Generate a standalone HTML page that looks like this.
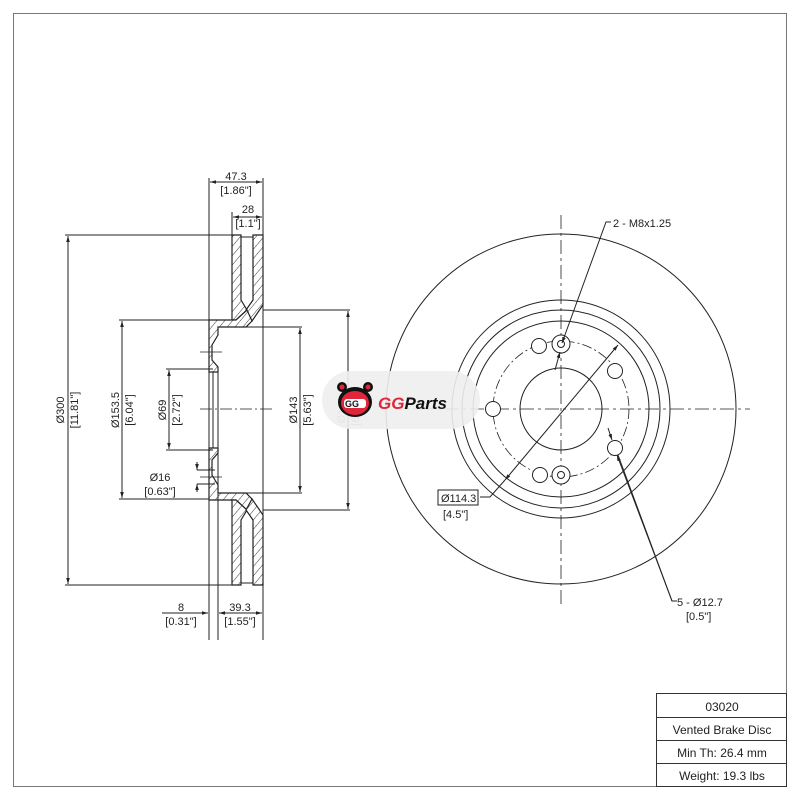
<!DOCTYPE html>
<html><head><meta charset="utf-8"><style>
html,body{margin:0;padding:0;background:#fff}
svg{display:block}
text{font-family:"Liberation Sans",sans-serif;fill:#222}
</style></head><body>
<svg width="800" height="800" viewBox="0 0 800 800" xmlns="http://www.w3.org/2000/svg">
<defs>
<pattern id="h" width="6" height="6" patternUnits="userSpaceOnUse" patternTransform="rotate(40)">
<rect width="6" height="6" fill="#fff"/><line x1="0" y1="0" x2="0" y2="6" stroke="#222" stroke-width="0.9"/></pattern>
<marker id="a" viewBox="0 0 10 10" refX="10" refY="5" markerWidth="6" markerHeight="6" orient="auto-start-reverse"><path d="M0,2 L10,5 L0,8z" fill="#222"/></marker>
</defs>
<rect x="13.5" y="13.5" width="773" height="773" fill="none" stroke="#777" stroke-width="1"/>

<g font-size="11" text-anchor="middle" fill="#bbb">
<g transform="translate(345,410) rotate(-90)"><text x="0" y="0" style="fill:#999">Ø161</text><text x="0" y="14" style="fill:#999">[6.34"]</text></g>
</g>

<!-- Section view -->
<g stroke="#222" stroke-width="1.2" fill="url(#h)">
<path d="M232,235 H241 V300 L247,310 L236,320 H232 Z"/>
<path d="M253,235 H263 V305 L252,321 L246,310 L253,300 Z"/>
<path d="M209,320 H236 L247,310 L252,321 L246,327 H218 V335 L212,345 V360 L218,367 V372 H209 Z"/>
<path d="M209,500 H236 L247,510 L252,499 L246,493 H218 V485 L212,475 V460 L218,453 V448 H209 Z"/>
<path d="M232,585 H241 V520 L247,510 L236,500 H232 Z"/>
<path d="M253,585 H263 V515 L252,499 L246,510 L253,520 Z"/>
</g>
<g stroke="#222" stroke-width="1" fill="none">
<line x1="241" y1="237" x2="253" y2="237"/><line x1="241" y1="583" x2="253" y2="583"/>
<line x1="209" y1="178" x2="209" y2="640"/>
<line x1="263" y1="178" x2="263" y2="640"/>
<line x1="218" y1="372" x2="218" y2="640"/>
<line x1="213" y1="372" x2="213" y2="448"/>
<line x1="232" y1="212" x2="232" y2="235"/>
<line x1="65" y1="235" x2="232" y2="235"/><line x1="65" y1="585" x2="232" y2="585"/>
<line x1="119" y1="320" x2="209" y2="320"/><line x1="119" y1="499" x2="209" y2="499"/>
<line x1="166" y1="369" x2="213" y2="369"/><line x1="166" y1="450" x2="213" y2="450"/>
<line x1="218" y1="327" x2="302" y2="327"/><line x1="218" y1="493" x2="302" y2="493"/>
<line x1="263" y1="310" x2="350" y2="310"/><line x1="263" y1="510" x2="350" y2="510"/>
<line x1="197" y1="470" x2="215" y2="470"/><line x1="197" y1="484" x2="215" y2="484"/>
<line x1="200" y1="352" x2="222" y2="352" stroke-width="0.7"/><line x1="200" y1="477" x2="222" y2="477" stroke-width="0.7"/>
<line x1="68" y1="236" x2="68" y2="584" marker-start="url(#a)" marker-end="url(#a)"/>
<line x1="122" y1="321" x2="122" y2="498" marker-start="url(#a)" marker-end="url(#a)"/>
<line x1="169" y1="370" x2="169" y2="449" marker-start="url(#a)" marker-end="url(#a)"/>
<line x1="300" y1="328" x2="300" y2="492" marker-start="url(#a)" marker-end="url(#a)"/>
<line x1="348" y1="311" x2="348" y2="509" marker-start="url(#a)" marker-end="url(#a)"/>
<line x1="197" y1="462" x2="197" y2="470" marker-end="url(#a)"/><line x1="197" y1="492" x2="197" y2="484" marker-end="url(#a)"/>
<line x1="210" y1="182" x2="262" y2="182" marker-start="url(#a)" marker-end="url(#a)"/>
<line x1="233" y1="217" x2="262" y2="217" marker-start="url(#a)" marker-end="url(#a)"/>
<line x1="162" y1="613" x2="208" y2="613" marker-end="url(#a)"/>
<line x1="219" y1="613" x2="262" y2="613" marker-start="url(#a)" marker-end="url(#a)"/>
<line x1="200" y1="409" x2="275" y2="409" stroke-dasharray="12,3,2,3" stroke-width="0.8"/>
</g>
<g font-size="11" text-anchor="middle">
<text x="236" y="180">47.3</text><text x="236" y="194">[1.86"]</text>
<text x="248" y="213">28</text><text x="248" y="227">[1.1"]</text>
<text x="181" y="611">8</text><text x="181" y="625">[0.31"]</text>
<text x="240" y="611">39.3</text><text x="240" y="625">[1.55"]</text>
<text x="160" y="481">Ø16</text><text x="160" y="495">[0.63"]</text>
<g transform="translate(64,410) rotate(-90)"><text x="0" y="0">Ø300</text><text x="0" y="14">[11.81"]</text></g>
<g transform="translate(119,410) rotate(-90)"><text x="0" y="0">Ø153.5</text><text x="0" y="14">[6.04"]</text></g>
<g transform="translate(166,410) rotate(-90)"><text x="0" y="0">Ø69</text><text x="0" y="14">[2.72"]</text></g>
<g transform="translate(297,410) rotate(-90)"><text x="0" y="0">Ø143</text><text x="0" y="14">[5.63"]</text></g>
</g>

<!-- Front view -->
<g stroke="#222" stroke-width="1" fill="none">
<circle cx="561" cy="409" r="175"/>
<circle cx="561" cy="409" r="109"/>
<circle cx="561" cy="409" r="99"/>
<circle cx="561" cy="409" r="88"/>
<circle cx="561" cy="409" r="41"/>
<circle cx="561" cy="409" r="68" stroke-dasharray="10,3,2,3" stroke-width="0.8"/>
<line x1="395" y1="409" x2="750" y2="409" stroke-dasharray="14,4,3,4" stroke-width="0.8"/>
<line x1="561" y1="215" x2="561" y2="605" stroke-dasharray="14,4,3,4" stroke-width="0.8"/>
<circle cx="493" cy="409" r="7.5" fill="#fff"/>
<circle cx="539" cy="346" r="7.5" fill="#fff"/>
<circle cx="615" cy="371" r="7.5" fill="#fff"/>
<circle cx="615" cy="448" r="7.5" fill="#fff"/>
<circle cx="540" cy="475" r="7.5" fill="#fff"/>
<circle cx="561" cy="344" r="9" fill="#fff"/><circle cx="561" cy="344" r="3.5"/>
<circle cx="561" cy="475" r="9" fill="#fff"/><circle cx="561" cy="475" r="3.5"/>
<polyline points="611,222 606,222 562,343" marker-end="url(#a)"/>
<line x1="555" y1="370" x2="560" y2="352" marker-end="url(#a)"/>
<line x1="618" y1="345" x2="505" y2="480" marker-start="url(#a)" marker-end="url(#a)"/>
<polyline points="505,480 490,497 480,497"/>
<line x1="608" y1="428" x2="612" y2="440" marker-end="url(#a)"/>
<polyline points="618,455 672,601 677,601" />
<line x1="672" y1="601" x2="617" y2="455" marker-end="url(#a)"/>
<rect x="438" y="490" width="40" height="15"/>
</g>
<g font-size="11">
<text x="613" y="227">2 - M8x1.25</text>
<text x="441" y="502">Ø114.3</text><text x="443" y="518">[4.5"]</text>
<text x="677" y="606">5 - Ø12.7</text><text x="686" y="620">[0.5"]</text>
</g>

<!-- Logo -->
<rect x="322" y="371" width="158" height="58" rx="29" fill="#eeeeee" opacity="0.9"/>
<g>
<ellipse cx="355" cy="402" rx="17" ry="15" fill="#111"/>
<ellipse cx="355" cy="403" rx="14" ry="12" fill="#e0263a"/>
<circle cx="342" cy="387" r="5" fill="#111"/><circle cx="368" cy="387" r="5" fill="#111"/>
<circle cx="342" cy="387" r="2.5" fill="#e0263a"/><circle cx="368" cy="387" r="2.5" fill="#e0263a"/>
<rect x="344" y="399" width="22" height="9" rx="3" fill="#fff"/>
<text x="345" y="407" font-size="9" font-weight="bold" style="fill:#111">GG</text>
</g>
<text x="378" y="409" font-size="17" font-weight="bold" font-style="italic"><tspan style="fill:#e0263a">GG</tspan><tspan style="fill:#111">Parts</tspan></text>

<!-- Title block -->
<g stroke="#333" stroke-width="1" fill="none">
<rect x="656.5" y="693.5" width="130" height="93"/>
<line x1="656" y1="717.5" x2="787" y2="717.5"/>
<line x1="656" y1="740.5" x2="787" y2="740.5"/>
<line x1="656" y1="763.5" x2="787" y2="763.5"/>
</g>
<g font-size="12" text-anchor="middle">
<text x="722" y="711">03020</text>
<text x="722" y="734">Vented Brake Disc</text>
<text x="722" y="757">Min Th: 26.4 mm</text>
<text x="722" y="780">Weight: 19.3 lbs</text>
</g>
</svg>
</body></html>
